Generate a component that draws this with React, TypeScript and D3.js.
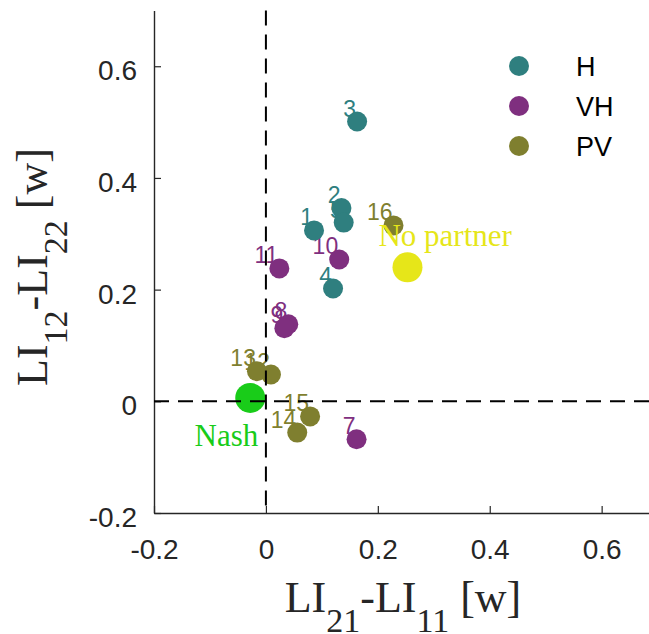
import React, { useEffect, useRef } from "react";
import * as d3 from "d3";

// point ids, groups and coordinates
const ids = [1, 2, 3, 4, 5, 7, 8, 9, 10, 11, 12, 13, 14, 15, 16];
const groups = ["H", "H", "H", "H", "H", "VH", "VH", "VH", "VH", "VH", "PV", "PV", "PV", "PV", "PV"];
const xVals = [0.086, 0.135, 0.163, 0.12, 0.139, 0.162, 0.04, 0.033, 0.131, 0.024, 0.009, -0.016, 0.056, 0.079, 0.228];
const yVals = [0.306, 0.346, 0.501, 0.202, 0.32, -0.068, 0.138, 0.131, 0.254, 0.238, 0.048, 0.054, -0.056, -0.027, 0.315];

const legendNames = ["H", "VH", "PV"];
const groupColors = ["#2f7f7f", "#7f2f7f", "#7f7f2f"];

const noPartner = { x: 0.253, y: 0.24 };
const nash = { x: -0.028, y: 0.006 };

const xTicks = [-0.2, 0, 0.2, 0.4, 0.6];
const yTicks = [-0.2, 0, 0.2, 0.4, 0.6];

const width = 649;
const height = 634;

export default function App() {
  const ref = useRef<SVGSVGElement>(null);

  useEffect(() => {
    const svg = d3.select(ref.current);
    svg.selectAll("*").remove();

    const xScale = d3.scaleLinear().domain([-0.2, 0.7]).range([154, 657.6]);
    const yScale = d3.scaleLinear().domain([-0.2, 0.7]).range([513, 10.4]);
    const color = d3.scaleOrdinal<string, string>().domain(legendNames).range(groupColors);
    const fmt = (d: any) => (d === 0 ? "0" : Number(d).toFixed(1));
    const sans = "Liberation Sans, Arial, sans-serif";
    const serif = "Liberation Serif, Times New Roman, serif";

    // axes
    const yAxis = svg.append("g")
      .attr("transform", `translate(${xScale(-0.2)},0)`)
      .call(d3.axisLeft(yScale).tickValues(yTicks).tickFormat(fmt).tickSizeInner(-7).tickSizeOuter(0).tickPadding(17));
    const xAxis = svg.append("g")
      .attr("transform", `translate(0,${yScale(-0.2)})`)
      .call(d3.axisBottom(xScale).tickValues(xTicks).tickFormat(fmt).tickSizeInner(-7).tickSizeOuter(0).tickPadding(26));

    [xAxis, yAxis].forEach(a => {
      a.select(".domain").attr("stroke", "#262626").attr("stroke-width", 1.4);
      a.selectAll(".tick line").attr("stroke", "#262626").attr("stroke-width", 1.2);
      a.selectAll(".tick text")
        .attr("fill", "#262626")
        .style("font-family", sans)
        .style("font-size", "28px");
    });
    yAxis.selectAll(".tick text").attr("dy", "0.48em");

    // axis labels
    const xl = svg.append("text")
      .attr("x", 403).attr("y", 612)
      .attr("text-anchor", "middle")
      .attr("fill", "#262626")
      .style("font-family", serif)
      .style("font-size", "44px");
    xl.append("tspan").text("LI");
    xl.append("tspan").attr("dy", 20).style("font-size", "34px").text("21");
    xl.append("tspan").attr("dy", -20).text("-LI");
    xl.append("tspan").attr("dy", 20).style("font-size", "34px").text("11");
    xl.append("tspan").attr("dy", -20).text(" [w]");

    const yl = svg.append("text")
      .attr("transform", "translate(47,267) rotate(-90)")
      .attr("text-anchor", "middle")
      .attr("fill", "#262626")
      .style("font-family", serif)
      .style("font-size", "44px");
    yl.append("tspan").text("LI");
    yl.append("tspan").attr("dy", 20).style("font-size", "34px").text("12");
    yl.append("tspan").attr("dy", -20).text("-LI");
    yl.append("tspan").attr("dy", 20).style("font-size", "34px").text("22");
    yl.append("tspan").attr("dy", -20).text(" [w]");

    const data = ids.map((id, i) => ({ id, group: groups[i], x: xVals[i], y: yVals[i] }));

    // number labels first, circles on top
    svg.append("g").selectAll("text")
      .data(data)
      .join("text")
      .attr("x", d => xScale(d.x) - 1)
      .attr("y", d => yScale(d.y) - 5)
      .attr("text-anchor", "end")
      .attr("fill", d => color(d.group))
      .style("font-family", sans)
      .style("font-size", "23px")
      .text(d => d.id);

    svg.append("g").selectAll("circle")
      .data(data)
      .join("circle")
      .attr("cx", d => xScale(d.x))
      .attr("cy", d => yScale(d.y))
      .attr("r", 10)
      .attr("fill", d => color(d.group));

    // reference points
    svg.append("circle")
      .attr("cx", xScale(noPartner.x)).attr("cy", yScale(noPartner.y))
      .attr("r", 15).attr("fill", "#e6e619");
    svg.append("text")
      .attr("x", xScale(noPartner.x) - 29).attr("y", yScale(noPartner.y) - 21)
      .attr("fill", "#e6e619")
      .style("font-family", serif).style("font-size", "31px")
      .text("No partner");

    svg.append("circle")
      .attr("cx", xScale(nash.x)).attr("cy", yScale(nash.y))
      .attr("r", 15).attr("fill", "#19cc19");
    svg.append("text")
      .attr("x", xScale(nash.x) + 8).attr("y", yScale(nash.y) + 48)
      .attr("text-anchor", "end")
      .attr("fill", "#19cc19")
      .style("font-family", serif).style("font-size", "31px")
      .text("Nash");

    // dashed zero lines
    svg.append("line")
      .attr("x1", xScale(0)).attr("x2", xScale(0))
      .attr("y1", yScale(0.7)).attr("y2", yScale(-0.2))
      .attr("stroke", "black").attr("stroke-width", 2).attr("stroke-dasharray", "15,9");
    svg.append("line")
      .attr("x1", xScale(-0.2)).attr("x2", xScale(0.7))
      .attr("y1", yScale(0)).attr("y2", yScale(0))
      .attr("stroke", "black").attr("stroke-width", 2).attr("stroke-dasharray", "15,9");

    // legend
    const legend = svg.append("g");
    legendNames.forEach((name, i) => {
      legend.append("circle")
        .attr("cx", 519).attr("cy", 66 + i * 40)
        .attr("r", 10).attr("fill", color(name));
      legend.append("text")
        .attr("x", 576).attr("y", 66 + i * 40)
        .attr("dy", "0.36em")
        .attr("fill", "black")
        .style("font-family", sans).style("font-size", "27px")
        .text(name);
    });
  }, []);

  return (
    <svg ref={ref} width={width} height={height}
      style={{ position: "absolute", left: 0, top: 0, background: "white" }} />
  );
}
